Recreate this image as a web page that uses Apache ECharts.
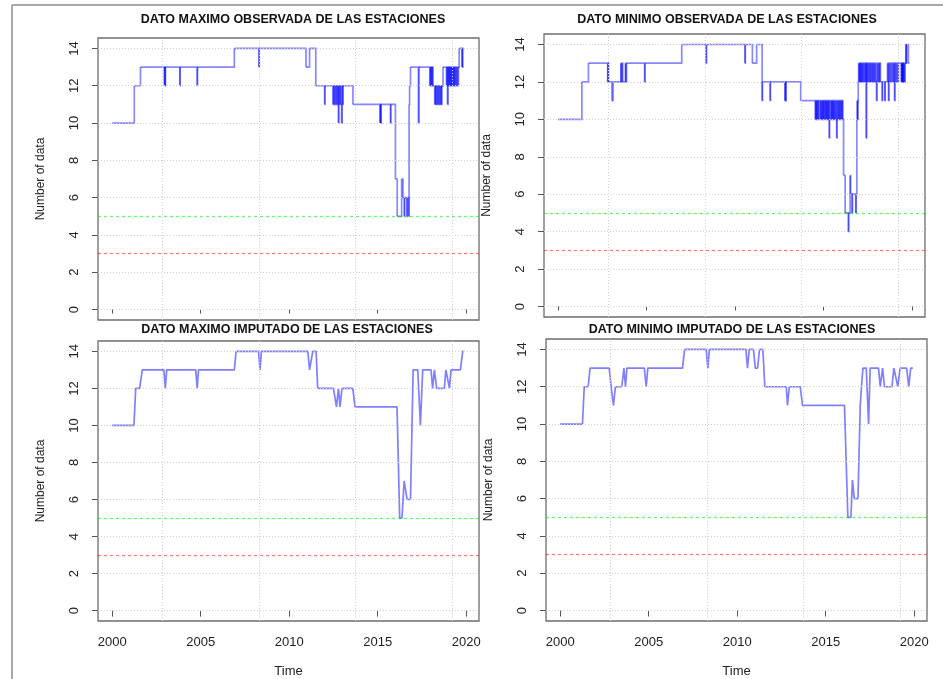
<!DOCTYPE html>
<html>
<head>
<meta charset="utf-8">
<title>Number of data</title>
<script src="https://cdn.jsdelivr.net/npm/echarts@6/dist/echarts.min.js"></script>
<style>
    html, body { margin: 0; padding: 0; background: #fff; }
    #chart { width: 943px; height: 679px; }
</style>
</head>
<body>
<div id="chart"></div>
<script>
// ticks
var yearTicks = [2000, 2005, 2010, 2015, 2020];
var countTicks = [0, 2, 4, 6, 8, 10, 12, 14];
var gridYears = [2002.85, 2008.3, 2013.75, 2019.2]; // grid() lines, not on the ticks
var limitGreen = 5;
var limitRed = 3;

var titles = [
    'DATO MAXIMO OBSERVADA DE LAS ESTACIONES',
    'DATO MINIMO OBSERVADA DE LAS ESTACIONES',
    'DATO MAXIMO IMPUTADO DE LAS ESTACIONES',
    'DATO MINIMO IMPUTADO DE LAS ESTACIONES'
];

// observed daily counts, [time, value] at each change (step)
var maxObs = [
    [2000.0, 10], [2001.25, 12], [2001.6, 13],
    [2002.95, 12], [2002.97, 13], [2002.99, 12], [2003.01, 13],
    [2003.82, 12], [2003.84, 13],
    [2004.8, 12], [2004.82, 13],
    [2006.9, 14],
    [2008.29, 13], [2008.31, 14],
    [2010.95, 13], [2011.15, 14], [2011.5, 12],
    [2012.0, 11], [2012.02, 12],
    [2012.47, 11], [2012.5, 12], [2012.53, 11], [2012.58, 12], [2012.62, 11], [2012.66, 12], [2012.7, 11], [2012.74, 12],
    [2012.78, 10], [2012.8, 12], [2012.84, 11], [2012.88, 12], [2012.92, 11], [2012.96, 10], [2012.99, 12], [2013.02, 11], [2013.04, 12],
    [2013.6, 11],
    [2015.13, 10], [2015.15, 11], [2015.17, 10], [2015.19, 11],
    [2015.72, 10], [2015.74, 11],
    [2016.0, 7], [2016.1, 5], [2016.35, 7], [2016.42, 6], [2016.5, 5], [2016.52, 6], [2016.65, 5], [2016.67, 6],
    [2016.75, 5], [2016.77, 11], [2016.8, 12], [2016.85, 13],
    [2017.3, 10], [2017.33, 13],
    [2017.94, 12], [2017.97, 13], [2018.0, 12], [2018.03, 13], [2018.06, 12], [2018.09, 13], [2018.12, 12],
    [2018.22, 11], [2018.25, 12], [2018.28, 11], [2018.32, 12], [2018.36, 11], [2018.4, 12], [2018.44, 11], [2018.48, 12],
    [2018.52, 11], [2018.56, 12], [2018.6, 11], [2018.62, 12],
    [2018.69, 13],
    [2018.88, 12], [2018.91, 13], [2018.94, 11], [2018.97, 13], [2019.0, 12], [2019.03, 13], [2019.06, 12], [2019.09, 13],
    [2019.12, 12], [2019.15, 13], [2019.18, 12], [2019.21, 13], [2019.24, 12], [2019.27, 13], [2019.3, 12], [2019.33, 13],
    [2019.36, 12], [2019.4, 13], [2019.44, 12], [2019.48, 13], [2019.52, 12], [2019.56, 13],
    [2019.6, 14], [2019.76, 13], [2019.78, 14], [2019.8, 13], [2019.84, 13]
];

var minObs = [
    [2000.0, 10], [2001.34, 12], [2001.71, 13],
    [2002.8, 12], [2002.82, 13], [2002.84, 12],
    [2003.04, 11], [2003.1, 12],
    [2003.54, 13], [2003.56, 12], [2003.62, 13], [2003.64, 12], [2003.8, 13], [2003.82, 12], [2003.86, 13],
    [2004.88, 12], [2004.91, 13],
    [2006.98, 14],
    [2008.35, 13], [2008.38, 14],
    [2010.55, 13], [2010.57, 14],
    [2010.97, 13], [2011.21, 14],
    [2011.52, 11], [2011.54, 12],
    [2011.97, 11], [2011.99, 12],
    [2012.81, 11], [2012.83, 12], [2012.85, 11], [2012.87, 12],
    [2013.7, 11],
    [2014.52, 10], [2014.55, 11], [2014.57, 10], [2014.6, 11], [2014.63, 10], [2014.66, 11], [2014.7, 10], [2014.72, 11],
    [2014.8, 10], [2014.83, 11], [2014.86, 10], [2014.9, 11], [2014.93, 10], [2014.96, 11], [2014.99, 10], [2015.01, 11],
    [2015.06, 10], [2015.09, 11], [2015.12, 10], [2015.15, 11], [2015.18, 10], [2015.21, 11], [2015.24, 10], [2015.27, 11],
    [2015.31, 9], [2015.33, 11],
    [2015.4, 10], [2015.43, 11], [2015.46, 10], [2015.49, 11], [2015.52, 10], [2015.55, 11], [2015.58, 10], [2015.61, 11],
    [2015.66, 10], [2015.69, 11], [2015.73, 9], [2015.75, 10], [2015.78, 11], [2015.81, 10], [2015.84, 11], [2015.88, 10],
    [2015.91, 11], [2015.95, 10], [2015.98, 11], [2016.02, 10], [2016.05, 11], [2016.08, 10],
    [2016.12, 7], [2016.21, 5], [2016.39, 4], [2016.41, 5], [2016.49, 7], [2016.52, 6], [2016.6, 5], [2016.62, 6],
    [2016.81, 5], [2016.83, 6], [2016.87, 10], [2016.89, 11], [2016.91, 10], [2016.93, 11], [2016.95, 12], [2016.97, 13],
    [2017.0, 12], [2017.03, 13], [2017.06, 12], [2017.09, 13], [2017.12, 12], [2017.15, 13], [2017.18, 12], [2017.22, 13],
    [2017.26, 12], [2017.3, 13], [2017.34, 12], [2017.38, 13], [2017.4, 9], [2017.42, 13], [2017.46, 12], [2017.5, 13],
    [2017.54, 12], [2017.58, 13], [2017.62, 12], [2017.66, 13], [2017.7, 12], [2017.74, 13], [2017.78, 12], [2017.82, 13],
    [2017.86, 12], [2017.9, 13], [2017.94, 12], [2017.98, 11], [2018.01, 13], [2018.05, 12], [2018.09, 13], [2018.13, 12],
    [2018.17, 13], [2018.2, 12],
    [2018.3, 11], [2018.32, 12], [2018.45, 11], [2018.47, 12],
    [2018.6, 13], [2018.63, 12], [2018.66, 11], [2018.68, 13], [2018.72, 12], [2018.76, 13], [2018.82, 12], [2018.86, 13],
    [2018.92, 12], [2018.96, 13], [2019.0, 11], [2019.02, 13], [2019.08, 12], [2019.12, 13], [2019.18, 12], [2019.22, 13],
    [2019.38, 12], [2019.4, 13], [2019.42, 12], [2019.44, 13], [2019.46, 12], [2019.48, 13], [2019.5, 12], [2019.53, 13],
    [2019.56, 12], [2019.6, 13],
    [2019.64, 14], [2019.66, 13], [2019.68, 14], [2019.78, 13], [2019.84, 13]
];

// imputed series (plain line between points)
var maxImp = [
    [2000.0, 10], [2001.23, 10], [2001.33, 12], [2001.55, 12], [2001.7, 13],
    [2002.92, 13], [2003.0, 12], [2003.08, 13],
    [2004.72, 13], [2004.8, 12], [2004.88, 13],
    [2006.9, 13], [2007.0, 14],
    [2008.27, 14], [2008.35, 13], [2008.43, 14],
    [2011.05, 14], [2011.15, 13], [2011.24, 13], [2011.33, 14], [2011.52, 14], [2011.61, 12],
    [2012.5, 12], [2012.67, 11], [2012.78, 12], [2012.87, 11], [2012.98, 12],
    [2013.59, 12], [2013.72, 11],
    [2016.09, 11], [2016.24, 5], [2016.37, 5], [2016.49, 7], [2016.66, 6], [2016.85, 6], [2017.0, 13],
    [2017.26, 13], [2017.41, 10], [2017.54, 13],
    [2018.01, 13], [2018.1, 12], [2018.2, 13], [2018.26, 13], [2018.33, 12],
    [2018.76, 12], [2018.85, 13], [2018.95, 13], [2019.05, 12], [2019.14, 13],
    [2019.67, 13], [2019.8, 14], [2019.85, 14]
];

var minImp = [
    [2000.0, 10], [2001.26, 10], [2001.36, 12], [2001.58, 12], [2001.69, 13],
    [2002.77, 13], [2002.88, 12], [2003.01, 11], [2003.12, 12], [2003.48, 12], [2003.6, 13], [2003.69, 12], [2003.77, 13],
    [2004.75, 13], [2004.86, 12], [2004.95, 13],
    [2006.91, 13], [2007.03, 14],
    [2008.25, 14], [2008.34, 13], [2008.43, 14],
    [2010.49, 14], [2010.58, 13], [2010.68, 14], [2010.92, 14], [2011.02, 13], [2011.15, 13], [2011.26, 14],
    [2011.45, 14], [2011.56, 12],
    [2012.77, 12], [2012.84, 11], [2012.94, 12], [2013.56, 12], [2013.69, 11],
    [2016.06, 11], [2016.25, 5], [2016.42, 5], [2016.51, 7], [2016.61, 6], [2016.82, 6], [2016.95, 11], [2017.02, 12], [2017.1, 13],
    [2017.29, 13], [2017.42, 10], [2017.51, 13],
    [2017.98, 13], [2018.08, 12], [2018.21, 13], [2018.32, 12],
    [2018.74, 12], [2018.85, 13], [2018.96, 13], [2019.07, 12], [2019.2, 13],
    [2019.57, 13], [2019.69, 12], [2019.8, 13], [2019.92, 13]
];

var panelData = [maxObs, minObs, maxImp, minImp];

// plot boxes and title centres
var boxes = [
    {left: 98, top: 38, width: 381, height: 282, tx: 293, ty: 20},
    {left: 544, top: 34, width: 381, height: 283, tx: 727, ty: 20},
    {left: 98, top: 341, width: 381, height: 281, tx: 287, ty: 330},
    {left: 546, top: 339, width: 381, height: 282, tx: 732, ty: 330}
];

var FONT = '"Liberation Sans", Arial, sans-serif';

// each step as its own little polyline, so the dense parts get darker like the original
function stepSegments(pts) {
    var segs = [];
    for (var i = 0; i < pts.length - 1; i++) {
        segs.push({coords: [[pts[i][0], pts[i][1]], [pts[i + 1][0], pts[i][1]], [pts[i + 1][0], pts[i + 1][1]]]});
    }
    return segs;
}

function plain(v) {
    return String(v);
}

var grids = [], xAxes = [], yAxes = [], series = [], graphics = [];

for (var i = 0; i < 4; i++) {
    var bottom = i >= 2;
    var b = boxes[i];
    grids.push({
        left: b.left, top: b.top, width: b.width, height: b.height,
        show: true, borderColor: '#6e6e6e', borderWidth: 1.3, backgroundColor: 'transparent'
    });
    xAxes.push({
        gridIndex: i, type: 'value', min: 1999.2, max: 2020.72,
        axisLine: {show: false},
        axisTick: {show: true, customValues: yearTicks, length: bottom ? 6 : 4, lineStyle: {color: '#555'}},
        axisLabel: {show: bottom, customValues: yearTicks, formatter: plain, margin: 15, fontSize: 13, color: '#222', fontFamily: FONT},
        splitLine: {show: false},
        name: bottom ? 'Time' : '', nameLocation: 'middle', nameGap: 44,
        nameTextStyle: {fontSize: 13, color: '#222', fontFamily: FONT}
    });
    yAxes.push({
        gridIndex: i, type: 'value', min: -0.56, max: 14.56,
        axisLine: {show: false},
        axisTick: {show: true, customValues: countTicks, length: 6, lineStyle: {color: '#555'}},
        axisLabel: {customValues: countTicks, formatter: plain, rotate: 90, margin: 17, fontSize: 13, color: '#222', fontFamily: FONT},
        splitLine: {show: false},
        name: 'Number of data', nameLocation: 'middle', nameRotate: 90, nameGap: 51,
        nameTextStyle: {fontSize: 12, color: '#222', fontFamily: FONT}
    });

    // grid lines + limits
    var marks = [];
    countTicks.forEach(function (v) {
        marks.push({yAxis: v, lineStyle: {color: '#cfcfcf', type: [1, 2], width: 1}});
    });
    gridYears.forEach(function (v) {
        marks.push({xAxis: v, lineStyle: {color: '#cfcfcf', type: [1, 2], width: 1}});
    });
    marks.push({yAxis: limitGreen, lineStyle: {color: 'rgba(0,230,0,0.55)', type: [3, 3], width: 1.3}});
    marks.push({yAxis: limitRed, lineStyle: {color: 'rgba(255,0,0,0.5)', type: [3, 3], width: 1.3}});

    series.push({
        type: 'line', xAxisIndex: i, yAxisIndex: i, z: 1,
        data: panelData[i], showSymbol: false, silent: true,
        lineStyle: {opacity: 0},
        markLine: {symbol: ['none', 'none'], silent: true, label: {show: false}, animation: false, data: marks}
    });

    if (!bottom) {
        series.push({
            type: 'lines', coordinateSystem: 'cartesian2d', xAxisIndex: i, yAxisIndex: i, z: 3,
            polyline: true, silent: true,
            lineStyle: {color: 'rgba(0,0,255,0.47)', width: 1.7, opacity: 1},
            data: stepSegments(panelData[i])
        });
    } else {
        series.push({
            type: 'line', xAxisIndex: i, yAxisIndex: i, z: 3,
            data: panelData[i], showSymbol: false, silent: true,
            lineStyle: {color: 'rgba(0,0,255,0.5)', width: 1.7}
        });
    }

    graphics.push({
        type: 'text', x: b.tx, y: b.ty,
        style: {text: titles[i], font: 'bold 12.5px ' + FONT, fill: '#111', textAlign: 'center', textVerticalAlign: 'middle'}
    });
}

// frame of the screenshot
graphics.push({type: 'line', shape: {x1: 12, y1: 5, x2: 943, y2: 5}, style: {stroke: '#a8a8a8', lineWidth: 2}});
graphics.push({type: 'line', shape: {x1: 12, y1: 5, x2: 12, y2: 679}, style: {stroke: '#a8a8a8', lineWidth: 2}});

var myChart = echarts.init(document.getElementById('chart'));
myChart.setOption({
    animation: false,
    backgroundColor: '#fff',
    grid: grids,
    xAxis: xAxes,
    yAxis: yAxes,
    series: series,
    graphic: graphics
});
</script>
</body>
</html>
